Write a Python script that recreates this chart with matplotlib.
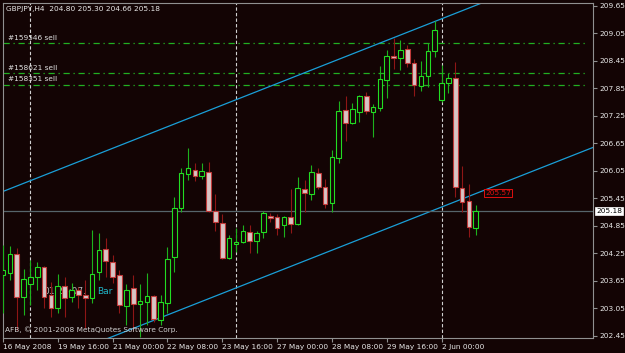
import numpy as np
import matplotlib.pyplot as plt

# GBPJPY H4 candles, 16 May 2008 08:00 .. 2 Jun 2008 20:00
opens = [203.78, 203.82, 204.24, 203.30, 203.58, 203.73, 203.95, 203.34, 203.06, 203.54,
         203.30, 203.45, 203.34, 203.27, 203.84, 204.34, 204.06, 203.78, 203.10, 203.49,
         203.14, 203.19, 203.32, 202.79, 203.17, 204.17, 205.24, 205.98, 206.07, 205.94,
         206.03, 205.17, 204.91, 204.15, 204.45, 204.50, 204.72, 204.52, 204.72, 205.06,
         205.04, 204.86, 205.04, 204.89, 205.65, 205.55, 206.00, 205.70, 205.35, 206.33,
         207.38, 207.10, 207.34, 207.68, 207.34, 207.42, 208.03, 208.56, 208.51, 208.71,
         208.41, 207.90, 208.12, 208.67, 207.60, 207.97, 208.08, 205.68, 205.39, 204.80]
highs = [204.43, 204.41, 204.37, 203.91, 204.10, 204.06, 203.97, 203.62, 203.80, 203.73,
         203.60, 203.52, 203.67, 204.76, 204.70, 204.58, 204.21, 203.89, 203.58, 203.78,
         203.58, 203.82, 203.34, 203.34, 204.39, 205.48, 206.11, 206.55, 206.22, 206.22,
         206.24, 205.55, 205.11, 204.66, 204.80, 204.87, 204.87, 204.73, 205.17, 205.13,
         205.11, 205.06, 205.65, 205.92, 205.85, 206.18, 206.11, 205.87, 206.51, 207.58,
         207.68, 207.53, 207.71, 207.77, 207.51, 208.34, 208.69, 208.95, 208.91, 208.80,
         208.49, 208.45, 208.84, 209.32, 208.36, 208.19, 208.43, 206.16, 205.76, 205.30]
lows = [202.95, 203.67, 202.58, 202.90, 203.12, 203.45, 203.06, 202.86, 202.95, 202.86,
        203.19, 203.06, 202.62, 203.17, 203.67, 203.73, 203.60, 202.95, 202.68, 202.58,
        202.42, 202.68, 202.75, 202.68, 202.95, 203.84, 205.15, 205.85, 205.83, 205.87,
        205.15, 204.73, 204.13, 204.13, 204.28, 204.48, 204.26, 204.26, 204.58, 204.93,
        204.66, 204.60, 204.70, 204.87, 205.15, 205.41, 205.65, 205.24, 205.15, 206.22,
        206.70, 207.07, 207.12, 207.29, 206.79, 207.36, 207.64, 208.27, 208.25, 208.32,
        207.68, 207.79, 207.88, 208.54, 207.55, 207.75, 205.48, 205.15, 204.60, 204.66]
closes = [203.89, 204.24, 203.30, 203.69, 203.73, 203.95, 203.30, 203.06, 203.54, 203.27,
          203.45, 203.34, 203.27, 203.80, 204.32, 204.08, 203.73, 203.12, 203.45, 203.14,
          203.21, 203.32, 202.82, 203.19, 204.13, 205.24, 206.00, 206.11, 205.94, 206.05,
          205.17, 204.93, 204.15, 204.58, 204.50, 204.73, 204.52, 204.70, 205.13, 205.02,
          204.80, 205.04, 204.89, 205.68, 205.57, 206.03, 205.70, 205.33, 206.35, 207.36,
          207.10, 207.40, 207.68, 207.36, 207.44, 208.06, 208.56, 208.51, 208.69, 208.41,
          207.93, 208.12, 208.67, 209.13, 207.97, 208.08, 205.70, 205.37, 204.82, 205.18]

tick_bars = [0, 8, 16, 24, 32, 40, 48, 56, 64]
tick_labels = ["16 May 2008", "19 May 16:00", "21 May 00:00", "22 May 08:00",
               "23 May 16:00", "27 May 00:00", "28 May 08:00", "29 May 16:00", "2 Jun 00:00"]
price_ticks = [209.65, 209.05, 208.45, 207.85, 207.25, 206.65, 206.05,
               205.45, 204.85, 204.25, 203.65, 203.05, 202.45]
separators = [4, 34, 64]
orders = [208.84, 208.19, 207.93]
order_names = ["#159546 sell", "#158621 sell", "#158351 sell"]
last_price = 205.18
channel_slope = 0.0589       # price per bar
upper_start = 205.60         # channel top at bar 0
lower_start = 201.49         # channel bottom at bar 0
channel_label = 205.57

bg = "#130404"
fig = plt.figure(figsize=(6.25, 3.53), dpi=100, facecolor=bg)
ax = fig.add_axes([3 / 625, 15 / 353, 590 / 625, 335 / 353], facecolor=bg)

o = np.array(opens)
c = np.array(closes)
idx = np.arange(len(o))
up = c >= o

# wicks
ax.vlines(idx[up], np.array(lows)[up], np.array(highs)[up], color="#1DB21D", lw=0.8, zorder=3)
ax.vlines(idx[~up], np.array(lows)[~up], np.array(highs)[~up], color="#8E1616", lw=0.8, zorder=3)
# bodies
ax.bar(idx[up], (c - o)[up], bottom=o[up], width=0.68, color=bg,
       edgecolor="#22DD22", linewidth=0.8, zorder=4)
ax.bar(idx[~up], (o - c)[~up], bottom=c[~up], width=0.68, color="#D8C4C4",
       edgecolor="#C03A3A", linewidth=0.8, zorder=4)

# period separators
for s in separators:
    ax.axvline(s, color="#D0D0D0", lw=0.8, ls=(0, (3, 2)), zorder=2)

# order lines
for p, name in zip(orders, order_names):
    ax.plot([0, 85], [p, p], color="#22B022", lw=0.9, ls=(0, (5, 3, 1, 3)), zorder=2)
    ax.text(0.8, p + 0.05, name, color="#E0E0E0", fontsize=5.3, va="bottom", zorder=5)

# channel
xs = np.array([-2, 90])
ax.plot(xs, upper_start + channel_slope * xs, color="#1A9FD8", lw=0.9, zorder=2)
ax.plot(xs, lower_start + channel_slope * xs, color="#1A9FD8", lw=0.9, zorder=2)
ax.text(70.4, channel_label, f"{channel_label:.2f}", color="#E01010", fontsize=5.3,
        va="center", ha="left", zorder=5,
        bbox=dict(boxstyle="square,pad=0.15", fc=bg, ec="#E01010", lw=0.7))

# current price line
ax.axhline(last_price, color="#56656B", lw=0.9, zorder=2)

ax.set_xlim(0, 86.1)
ax.set_ylim(202.40, 209.715)

for sp in ax.spines.values():
    sp.set_color("#909090")
    sp.set_linewidth(0.8)

ax.yaxis.tick_right()
ax.set_yticks(price_ticks)
ax.set_yticklabels([f"{p:.2f}" for p in price_ticks])
ax.set_xticks(tick_bars)
ax.set_xticklabels(tick_labels, ha="left")
ax.tick_params(colors="#909090", labelcolor="#E8E8E8", labelsize=5.3, length=3, width=0.8, pad=1.5)

ax.text(1.005, last_price, f"{last_price:.2f}", transform=ax.get_yaxis_transform(),
        fontsize=5.3, color="black", va="center", ha="left", zorder=6,
        bbox=dict(boxstyle="square,pad=0.15", fc="white", ec="white", lw=0.5),
        clip_on=False)

fig.text(6 / 625, 1 - 9 / 353, "GBPJPY,H4  204.80 205.30 204.66 205.18", color="#E8E8E8",
         fontsize=5.3, va="center", ha="left")
fig.text(5 / 625, 1 - 330 / 353, "AFB, \u00a9 2001-2008 MetaQuotes Software Corp.",
         color="#D0D0D0", fontsize=5.3, va="center", ha="left")
ax.text(0.068, 1 - (292 - 3) / 335, "01:26:07.", transform=ax.transAxes, color="#B8B8B8",
        fontsize=6.5, va="center", ha="left", zorder=1)
ax.text(0.159, 1 - (292 - 3) / 335, "Bar", transform=ax.transAxes, color="#1FB6C8",
        fontsize=6.5, va="center", ha="left", zorder=1)

fig.savefig("out.png", dpi=100, facecolor=bg)
